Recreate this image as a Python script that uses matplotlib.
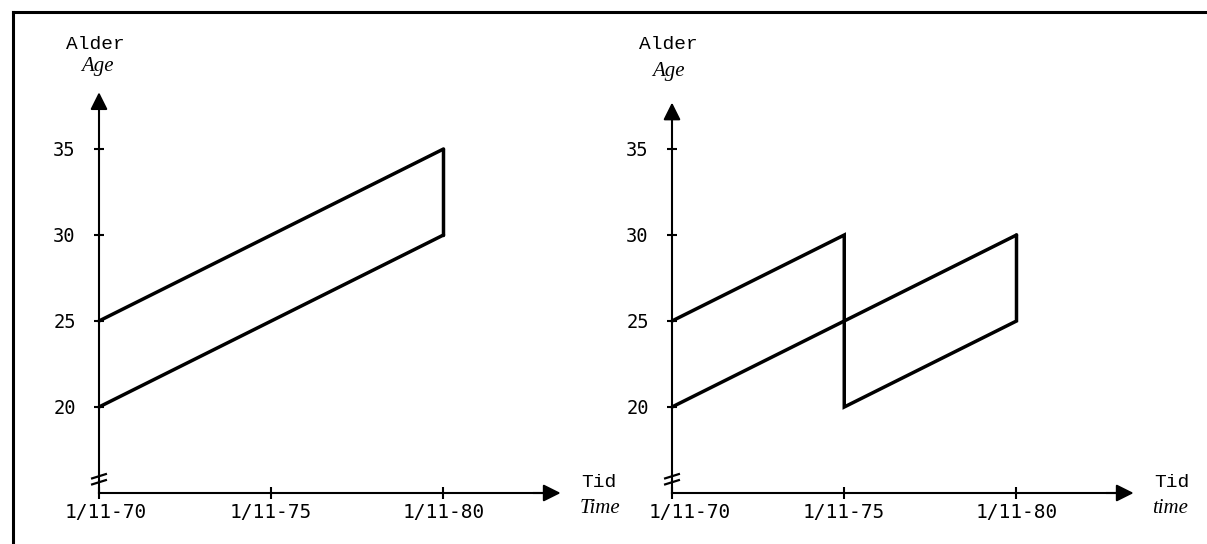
import matplotlib
matplotlib.use("Agg")
import matplotlib.pyplot as plt
from matplotlib.lines import Line2D
from matplotlib.transforms import ScaledTranslation

# data
years = [70, 75, 80]
year_labels = ["1/11-70", "1/11-75", "1/11-80"]
age_ticks = [20, 25, 30, 35]

# left panel: one cohort followed 1970-1980
left_upper_x = [70, 80]
left_upper_y = [25, 35]
left_lower_x = [70, 80]
left_lower_y = [20, 30]
left_close_x = [80, 80]
left_close_y = [35, 30]

# right panel: two cohorts, each followed 5 years
right_lower_x = [70, 80]
right_lower_y = [20, 30]
right_path_x = [70, 75, 75, 80, 80]
right_path_y = [25, 30, 20, 25, 30]

W, H = 1207, 544
DPI = 100
PX_X = 34.45   # pixels per year
PX_Y = 17.2    # pixels per year of age
XLIM = (67.5, 85.5)
YLIM = (12.5, 42.5)


def place(fig, x70, y20):
    # axes positioned so that (70, 20) lands at pixel (x70, y20 from top)
    left = x70 - (70 - XLIM[0]) * PX_X
    width = (XLIM[1] - XLIM[0]) * PX_X
    bottom_top = y20 + (20 - YLIM[0]) * PX_Y
    height = (YLIM[1] - YLIM[0]) * PX_Y
    ax = fig.add_axes([left / W, (H - bottom_top) / H, width / W, height / H])
    ax.set_xlim(*XLIM)
    ax.set_ylim(*YLIM)
    ax.patch.set_visible(False)
    return ax


def draw_frame(ax, y_top, first_dx, tid2):
    for s in ["top", "right"]:
        ax.spines[s].set_visible(False)
    ax.spines["left"].set_position(("data", 70))
    ax.spines["bottom"].set_position(("data", 15))
    ax.spines["left"].set_bounds(15, y_top - 0.6)
    ax.spines["bottom"].set_bounds(70, 83.3 - 0.4)
    for s in ["left", "bottom"]:
        ax.spines[s].set_linewidth(1.5)
    ax.annotate("", xy=(70, y_top), xytext=(70, y_top - 0.8),
                arrowprops=dict(arrowstyle="-|>", color="black", lw=1.5,
                                mutation_scale=26, shrinkA=0, shrinkB=0))
    ax.annotate("", xy=(83.4, 15), xytext=(82.6, 15),
                arrowprops=dict(arrowstyle="-|>", color="black", lw=1.5,
                                mutation_scale=26, shrinkA=0, shrinkB=0))

    ax.set_yticks(age_ticks)
    ax.set_yticklabels([str(a) for a in age_ticks], family="DejaVu Sans Mono", fontsize=13.5)
    ax.set_xticks(years)
    ax.set_xticklabels(year_labels, family="DejaVu Sans Mono", fontsize=14)
    ax.tick_params(axis="y", direction="inout", length=7.5, width=1.5, pad=13)
    ax.tick_params(axis="x", direction="inout", length=8.5, width=1.5, pad=3)
    lab = ax.get_xticklabels()[0]
    lab.set_transform(lab.get_transform() + ScaledTranslation(first_dx / 100, 0, ax.figure.dpi_scale_trans))

    # axis break mark
    for y0 in (15.5, 15.85):
        ax.plot([69.8, 70.2], [y0, y0 + 0.25], color="black", lw=1.6, clip_on=False)

    ax.text(69.9, 41.1, "Alder", family="Liberation Mono", fontsize=14,
            ha="center", va="center")
    ax.text(84.0, 15.6, "Tid", family="Liberation Mono", fontsize=14,
            ha="left", va="center")
    ax.text(83.95, 14.1, tid2, family="Liberation Serif", style="italic", fontsize=15,
            ha="left", va="center")


fig = plt.figure(figsize=(W / DPI, H / DPI), dpi=DPI)

# outer frame (top and left edge only)
fig.add_artist(Line2D([13 / W, 13 / W], [0, 1 - 12 / H], transform=fig.transFigure,
                      color="black", lw=2.2))
fig.add_artist(Line2D([13 / W, 1], [1 - 12 / H, 1 - 12 / H], transform=fig.transFigure,
                      color="black", lw=2.2))

ax1 = place(fig, 99, 407)
draw_frame(ax1, 38.3, 7, "Time")
ax1.text(69.95, 39.8, "Age", family="Liberation Serif", style="italic", fontsize=15,
         ha="center", va="center")
ax1.plot(left_upper_x, left_upper_y, color="black", lw=2.5, solid_capstyle="round")
ax1.plot(left_lower_x, left_lower_y, color="black", lw=2.5, solid_capstyle="round")
ax1.plot(left_close_x, left_close_y, color="black", lw=2.5, solid_capstyle="round")

ax2 = place(fig, 672, 407)
draw_frame(ax2, 37.7, 18, "time")
ax2.text(69.9, 39.5, "Age", family="Liberation Serif", style="italic", fontsize=15,
         ha="center", va="center")
ax2.plot(right_lower_x, right_lower_y, color="black", lw=2.5, solid_capstyle="round")
ax2.plot(right_path_x, right_path_y, color="black", lw=2.5,
         solid_capstyle="round", solid_joinstyle="miter")

fig.savefig("out.png", dpi=DPI)
